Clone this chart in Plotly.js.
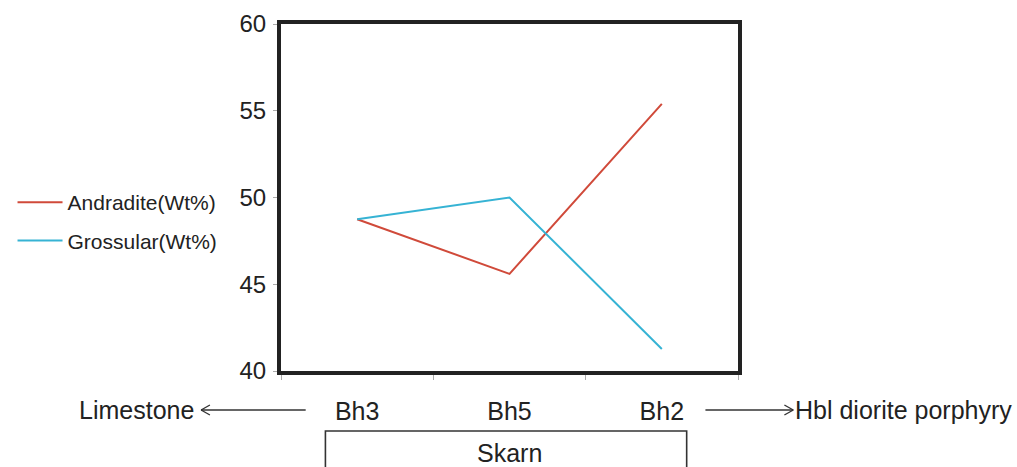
<!DOCTYPE html>
<html>
<head>
<meta charset="utf-8">
<script src="https://cdn.plot.ly/plotly-3.0.1.min.js"></script>
<style>html,body{margin:0;padding:0;background:#fff;}#chart{width:1017px;height:467px;}</style>
</head>
<body>
<div id="chart"></div>
<script>
var samples = ['Bh3', 'Bh5', 'Bh2'];
var andradite = [48.75, 45.6, 55.4];
var grossular = [48.75, 50.0, 41.27];
var yTicks = [40, 45, 50, 55, 60];

var FONT = 'Liberation Sans, Arial, sans-serif';
var W = 463, H = 347, L = 275, T = 24;
function px(x) { return (x - L) / W; }
function py(y) { return (T + H - y) / H; }

var traces = [
  {x: samples, y: andradite, type: 'scatter', mode: 'lines', name: 'Andradite(Wt%)',
   line: {color: '#d04a3a', width: 2}, legendgroup: 'a'},
  {x: samples, y: grossular, type: 'scatter', mode: 'lines', name: 'Grossular(Wt%)',
   line: {color: '#36b3d4', width: 2}, legendgroup: 'g'}
];

var lc = '#333';
function seg(x0, y0, x1, y1, w) {
  return {type: 'line', xref: 'paper', yref: 'paper', x0: px(x0), x1: px(x1), y0: py(y0), y1: py(y1), line: {color: lc, width: w || 1.4}};
}
var shapes = [
  seg(194, 410, 300, 410), seg(194, 410, 203, 405), seg(194, 410, 203, 415),
  seg(705, 410, 794, 410), seg(794, 410, 785, 405), seg(794, 410, 785, 415),
  {type: 'rect', xref: 'paper', yref: 'paper', x0: px(320), x1: px(686), y0: py(431), y1: py(480), line: {color: lc, width: 1.6}}
];

var annFont = {family: FONT, size: 25, color: '#222'};
var annotations = [
  {text: 'Limestone', xref: 'paper', yref: 'paper', x: px(189), y: py(410), xanchor: 'right', yanchor: 'middle', showarrow: false, font: annFont},
  {text: 'Hbl diorite porphyry', xref: 'paper', yref: 'paper', x: px(794), y: py(410), xanchor: 'left', yanchor: 'middle', showarrow: false, font: annFont},
  {text: 'Skarn', xref: 'paper', yref: 'paper', x: px(507), y: py(453), xanchor: 'center', yanchor: 'middle', showarrow: false, font: annFont}
];

var layout = {
  width: 1017, height: 467,
  margin: {l: L, r: 1017 - L - W, t: T, b: 467 - T - H},
  paper_bgcolor: '#fff', plot_bgcolor: '#fff',
  showlegend: true,
  legend: {x: px(3), y: py(182), xanchor: 'left', yanchor: 'top', font: {family: FONT, size: 21, color: '#222'},
           tracegroupgap: 8, bgcolor: 'rgba(0,0,0,0)', itemwidth: 45},
  xaxis: {type: 'category', range: [-0.5, 2.5], tickson: 'boundaries', ticks: 'outside', ticklen: 5, tickcolor: '#aaa', tickwidth: 1,
          showline: true, linecolor: '#222', linewidth: 4, mirror: true, showgrid: false, zeroline: false,
          tickfont: {family: FONT, size: 25, color: '#222'}, ticklabelstandoff: 15, fixedrange: true},
  yaxis: {range: [40, 60], tickvals: yTicks, ticktext: yTicks.map(String), ticks: 'outside', ticklen: 4, tickcolor: '#aaa', tickwidth: 1,
          showline: true, linecolor: '#222', linewidth: 4, mirror: true, showgrid: false, zeroline: false,
          tickfont: {family: FONT, size: 24, color: '#222'}, ticklabelstandoff: 2, fixedrange: true},
  shapes: shapes,
  annotations: annotations
};

Plotly.newPlot('chart', traces, layout, {displayModeBar: false, staticPlot: true});
</script>
</body>
</html>
